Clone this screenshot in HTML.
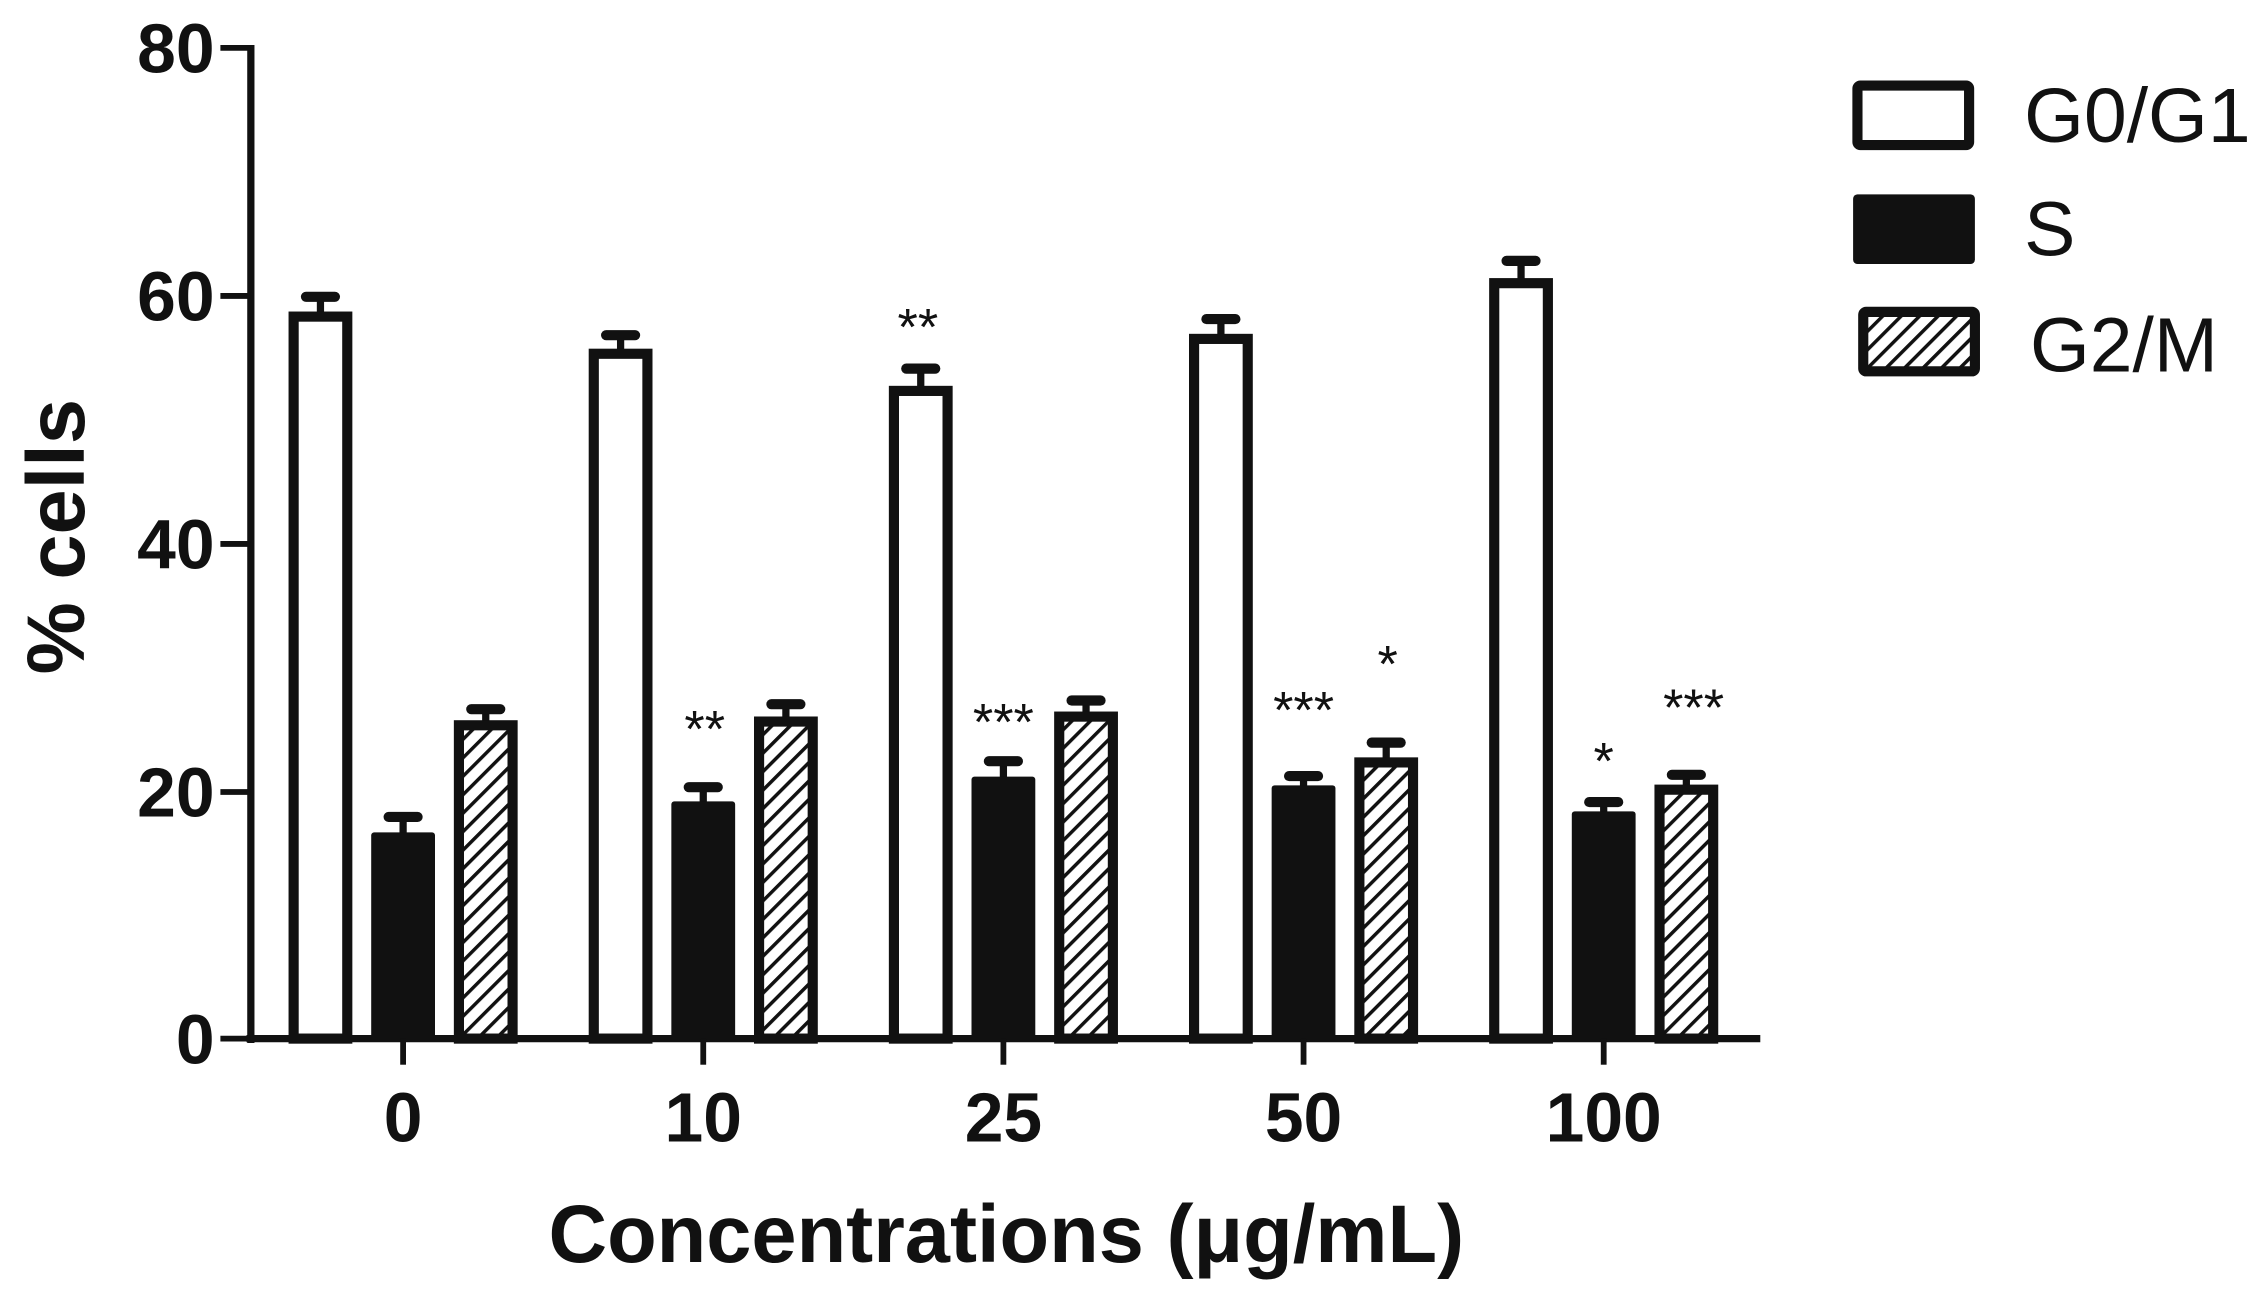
<!DOCTYPE html>
<html><head><meta charset="utf-8"><style>
html,body{margin:0;padding:0;background:#fff;}
svg{display:block;}
text{font-family:"Liberation Sans",Arial,sans-serif;fill:#111;}
</style></head><body>
<svg id="s" width="2262" height="1291" viewBox="0 0 1560 890" preserveAspectRatio="none" xmlns="http://www.w3.org/2000/svg">
<defs>
<pattern id="h" patternUnits="userSpaceOnUse" width="9" height="9" patternTransform="rotate(45)">
<rect width="9" height="9" fill="#fff"/><rect x="0" y="0" width="2.4" height="9" fill="#111"/>
</pattern>
</defs>
<g id="g"></g>
<line x1="173" y1="31" x2="173" y2="719" stroke="#111" stroke-width="5"/>
<line x1="170" y1="716" x2="1214" y2="716" stroke="#111" stroke-width="5"/>
<g stroke="#111" stroke-width="4">
<line x1="152" y1="33" x2="173" y2="33"/><line x1="152" y1="204" x2="173" y2="204"/>
<line x1="152" y1="375" x2="173" y2="375"/><line x1="152" y1="546" x2="173" y2="546"/>
<line x1="152" y1="716" x2="173" y2="716"/>
<line x1="278" y1="716" x2="278" y2="734"/><line x1="485" y1="716" x2="485" y2="734"/>
<line x1="692" y1="716" x2="692" y2="734"/><line x1="899" y1="716" x2="899" y2="734"/>
<line x1="1106" y1="716" x2="1106" y2="734"/>
</g>
<g font-size="48" font-weight="bold" text-anchor="end">
<text x="148" y="50">80</text><text x="148" y="221">60</text><text x="148" y="392">40</text>
<text x="148" y="563">20</text><text x="148" y="733">0</text>
</g>
<g font-size="48" font-weight="bold" text-anchor="middle">
<text x="278" y="787">0</text><text x="485" y="787">10</text><text x="692" y="787">25</text>
<text x="899" y="787">50</text><text x="1106" y="787">100</text>
</g>
<text x="694" y="870" font-size="56" font-weight="bold" text-anchor="middle">Concentrations (μg/mL)</text>
<text transform="translate(58,370) rotate(-90)" font-size="56" font-weight="bold" text-anchor="middle">% cells</text>
<rect x="1281" y="59" width="77" height="41" fill="#fff" stroke="#111" stroke-width="7" rx="2"/>
<rect x="1278" y="134" width="84" height="48" fill="#111" rx="3"/>
<rect x="1285" y="215" width="77" height="41" fill="url(#h)" stroke="#111" stroke-width="7" rx="2"/>
<g font-size="53"><text x="1396" y="98">G0/G1</text><text x="1396" y="176">S</text><text x="1400" y="256">G2/M</text></g>
<g font-size="36" text-anchor="middle">
<text x="633" y="238">**</text><text x="486" y="515">**</text><text x="692" y="510">***</text>
<text x="899" y="502">***</text><text x="957" y="470">*</text><text x="1106" y="537">*</text>
<text x="1168" y="500">***</text>
</g>
</svg>
<script>
var g=document.getElementById('g');
function Y(v){return 716-v*8.5375;}
var C=[278,485,692,899,1106];
var G0=[58.3,55.3,52.3,56.5,61.0],S=[16.3,18.8,20.8,20.1,18.0],G2=[25.3,25.6,26.0,22.3,20.1];
var E=[[1.6,1.5,1.8,1.6,1.8],[1.6,1.5,1.6,1.1,1.1],[1.3,1.4,1.3,1.6,1.2]];
var h='';
function bar(cx,v,e,fill){
 var y=Y(v),ey=Y(v+e);
 h+='<line x1="'+cx+'" y1="'+y+'" x2="'+cx+'" y2="'+ey+'" stroke="#111" stroke-width="5"/>';
 h+='<line x1="'+(cx-10)+'" y1="'+ey+'" x2="'+(cx+10)+'" y2="'+ey+'" stroke="#111" stroke-width="7" stroke-linecap="round"/>';
 if(fill=='#111') h+='<rect x="'+(cx-22)+'" y="'+(y-3)+'" width="44" height="'+(716-y+3)+'" fill="#111" rx="2"/>';
 else h+='<rect x="'+(cx-18.5)+'" y="'+y+'" width="37" height="'+(716-y)+'" fill="'+fill+'" stroke="#111" stroke-width="7"/>';
}
for(var i=0;i<5;i++){bar(C[i]-57,G0[i],E[0][i],'#fff');bar(C[i],S[i],E[1][i],'#111');bar(C[i]+57,G2[i],E[2][i],'url(#h)');}
g.innerHTML=h;
</script>
</body></html>
